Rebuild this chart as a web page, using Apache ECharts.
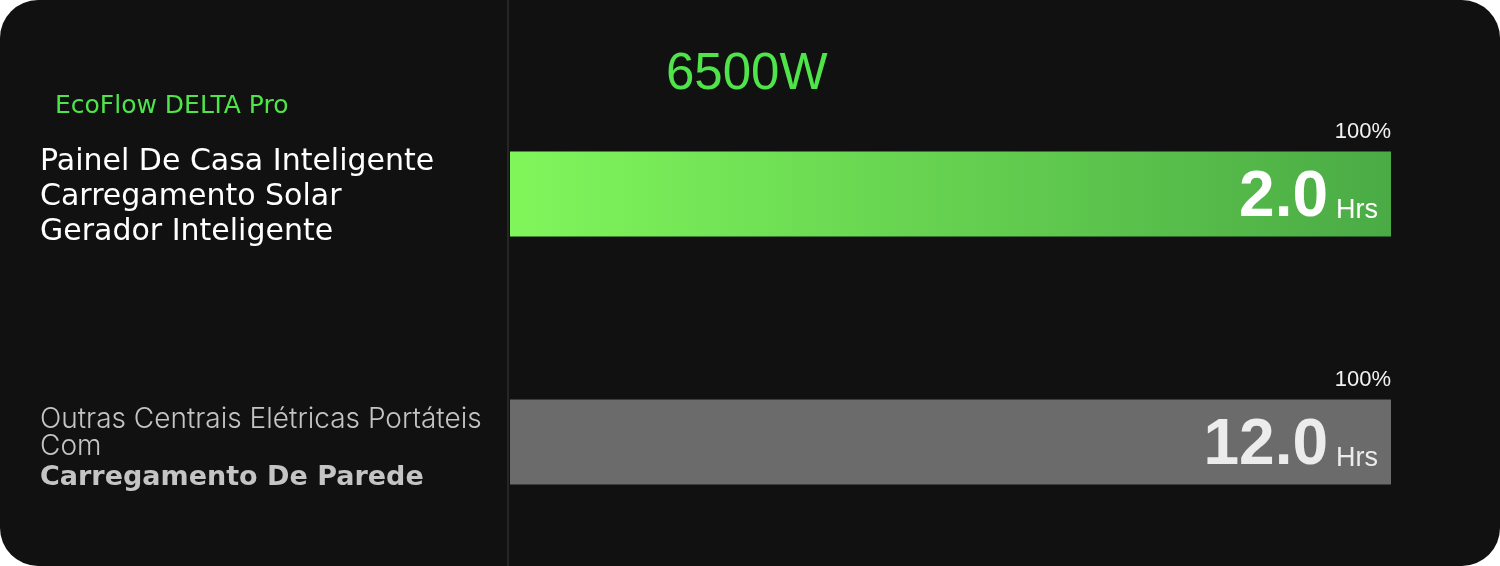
<!DOCTYPE html>
<html>
<head>
<meta charset="utf-8">
<script src="https://cdn.jsdelivr.net/npm/echarts@6/dist/echarts.min.js"></script>
<style>
    html, body {margin: 0; padding: 0; background: #fff;}
    #main {width: 1500px; height: 566px; border-radius: 38px; overflow: hidden;}
</style>
</head>
<body>
<div id="main"></div>
<script>
// data
var categories = ['EcoFlow DELTA Pro', 'Outras Centrais Elétricas Portáteis'];
var brandLines = ['EcoFlow DELTA Pro', ''];
var descLines = [
    ['Painel De Casa Inteligente', 'Carregamento Solar', 'Gerador Inteligente'],
    ['Outras Centrais Elétricas Portáteis', 'Com', 'Carregamento De Parede']
];
var percentValues = [100, 100];
var hoursValues = [2.0, 12.0];
var hoursUnit = 'Hrs';
var powerLabel = '6500W';

var numColors = ['#ffffff', '#ececec'];

var myChart = echarts.init(document.getElementById('main'));

var option = {
    backgroundColor: '#111111',
    animation: false,
    title: {
        text: powerLabel,
        left: 661,
        top: 44,
        textStyle: {
            color: '#4ee44a',
            fontSize: 51,
            fontWeight: 'normal',
            fontFamily: 'Liberation Sans'
        }
    },
    grid: {
        left: 510,
        right: 109,
        top: 70,
        bottom: 0
    },
    xAxis: {
        type: 'value',
        min: 0,
        max: 100,
        show: false
    },
    yAxis: {
        type: 'category',
        inverse: true,
        data: categories,
        axisLine: {show: false},
        axisTick: {show: false},
        axisLabel: {
            margin: 470,
            align: 'left',
            formatter: function (value, idx) {
                var lines = descLines[idx];
                if (idx === 0) {
                    return '{brand|' + brandLines[0] + '}\n' +
                        lines.map(function (l) { return '{main|' + l + '}'; }).join('\n') +
                        '\n{pad|}';
                }
                return '{pad2|}\n{light|' + lines[0] + '}\n{light|' + lines[1] + '}\n{bold|' + lines[2] + '}';
            },
            rich: {
                brand: {
                    color: '#4ee44a',
                    fontSize: 25,
                    fontFamily: 'DejaVu Sans',
                    lineHeight: 77,
                    padding: [0, 0, 0, 15]
                },
                main: {
                    color: '#ffffff',
                    fontSize: 30,
                    fontFamily: 'DejaVu Sans',
                    lineHeight: 35
                },
                pad: {
                    lineHeight: 70,
                    fontSize: 1
                },
                pad2: {
                    lineHeight: 17,
                    fontSize: 1
                },
                light: {
                    color: '#c4c4c4',
                    fontSize: 28,
                    fontWeight: 300,
                    fontFamily: 'Inter',
                    lineHeight: 27
                },
                bold: {
                    color: '#c4c4c4',
                    fontSize: 27,
                    fontWeight: 'bold',
                    fontFamily: 'DejaVu Sans',
                    lineHeight: 34
                }
            }
        }
    },
    series: [
        {
            name: 'hours',
            type: 'bar',
            barWidth: 85,
            data: percentValues.map(function (v, i) {
                return {
                    value: v,
                    itemStyle: i === 0 ? {
                        color: new echarts.graphic.LinearGradient(0, 0, 1, 0, [
                            {offset: 0, color: '#80f65b'},
                            {offset: 1, color: '#4aab45'}
                        ])
                    } : {color: '#6b6b6b'},
                    label: {color: numColors[i]}
                };
            }),
            label: {
                show: true,
                position: 'insideRight',
                distance: 63,
                offset: [0, 4],
                formatter: function (p) {
                    return hoursValues[p.dataIndex].toFixed(1);
                },
                fontSize: 64,
                fontWeight: 'bold',
                fontFamily: 'Liberation Sans'
            }
        },
        {
            name: 'unit',
            type: 'bar',
            barWidth: 85,
            barGap: '-100%',
            silent: true,
            itemStyle: {color: 'transparent'},
            data: percentValues.map(function (v, i) {
                return {value: v, label: {color: numColors[i]}};
            }),
            label: {
                show: true,
                position: 'insideRight',
                distance: 13,
                offset: [0, 17],
                formatter: hoursUnit,
                fontSize: 27,
                fontFamily: 'Liberation Sans'
            }
        },
        {
            name: 'percent',
            type: 'bar',
            barWidth: 85,
            barGap: '-100%',
            silent: true,
            itemStyle: {color: 'transparent'},
            data: percentValues,
            label: {
                show: true,
                position: 'insideTopRight',
                distance: 0,
                offset: [0, -31],
                formatter: '{c}%',
                color: '#f2f2f2',
                fontSize: 22,
                fontFamily: 'Liberation Sans'
            }
        }
    ],
    graphic: [
        {
            type: 'line',
            shape: {x1: 508, y1: 0, x2: 508, y2: 566},
            style: {stroke: '#262626', lineWidth: 2}
        }
    ]
};

myChart.setOption(option);
</script>
</body>
</html>
